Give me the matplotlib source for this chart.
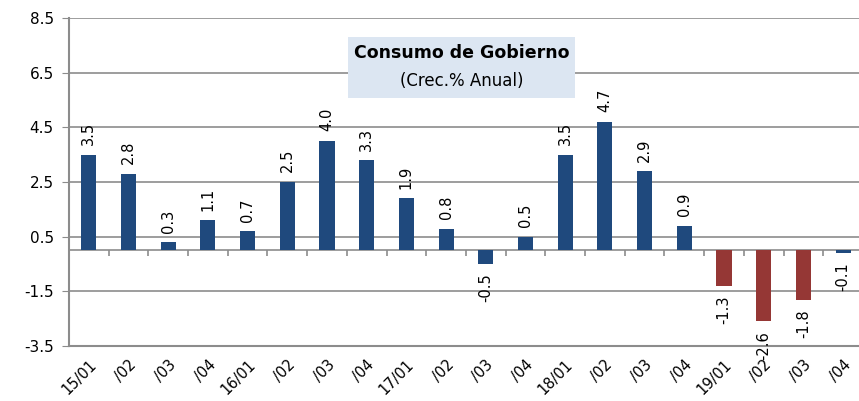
import numpy as np
import matplotlib.pyplot as plt
from matplotlib.patches import Rectangle

plt.rcParams['font.family'] = ['DejaVu Sans']

# Data
periods = ['15/01', '/02', '/03', '/04', '16/01', '/02', '/03', '/04',
           '17/01', '/02', '/03', '/04', '18/01', '/02', '/03', '/04',
           '19/01', '/02', '/03', '/04']
growth = [3.5, 2.8, 0.3, 1.1, 0.7, 2.5, 4.0, 3.3, 1.9, 0.8, -0.5, 0.5,
          3.5, 4.7, 2.9, 0.9, -1.3, -2.6, -1.8, -0.1]
yticks = [-3.5, -1.5, 0.5, 2.5, 4.5, 6.5, 8.5]

blue = '#1f497d'
red = '#953735'
grid_c = '#8c8c8c'

fig = plt.figure(figsize=(8.59, 4.01), dpi=100)
ax = fig.add_axes([0.0803, 0.137, 0.9197, 0.818])

x = np.arange(len(growth))
# the 2019 quarters that fell sharply are shown in red
colors = [red if 16 <= i <= 18 else blue for i in range(len(growth))]
ax.bar(x, growth, width=0.38, color=colors, zorder=3)

# value labels
for xi, v in zip(x, growth):
    if v >= 0:
        ax.text(xi, v + 0.35, f'{v:.1f}', rotation=90, ha='center', va='bottom', fontsize=10.5)
    else:
        ax.text(xi, v - 0.35, f'{v:.1f}', rotation=90, ha='center', va='top', fontsize=10.5)

ax.set_ylim(-3.5, 8.5)
ax.set_xlim(-0.5, len(growth) - 0.6)
ax.set_yticks(yticks)
ax.set_yticklabels([f'{t:.1f}' for t in yticks], fontsize=11)
ax.yaxis.grid(True, color=grid_c, linewidth=1.2, zorder=0)
ax.tick_params(axis='y', length=5, color=grid_c, pad=6)

# zero line with category separators
ax.axhline(0, color=grid_c, linewidth=1.2, zorder=2)
ax.vlines(x[:-1] + 0.5, -0.22, 0, color=grid_c, linewidth=1.2, zorder=2)

ax.set_xticks(x)
ax.set_xticklabels(periods, rotation=45, ha='right', rotation_mode='anchor', fontsize=10.5)
ax.tick_params(axis='x', length=0, pad=8)

for s in ['top', 'right']:
    ax.spines[s].set_visible(False)
for s in ['left', 'bottom']:
    ax.spines[s].set_color(grid_c)
    ax.spines[s].set_linewidth(1.5)

# title box
ax.add_patch(Rectangle((0.353, 0.756), 0.288, 0.186, transform=ax.transAxes,
                       facecolor='#dce6f2', edgecolor='none', zorder=4))
ax.text(0.497, 0.893, 'Consumo de Gobierno', transform=ax.transAxes, ha='center', va='center',
        fontsize=12.5, fontweight='bold', zorder=5)
ax.text(0.497, 0.808, '(Crec.% Anual)', transform=ax.transAxes, ha='center', va='center',
        fontsize=12, zorder=5)

fig.savefig('out.png', dpi=100)
